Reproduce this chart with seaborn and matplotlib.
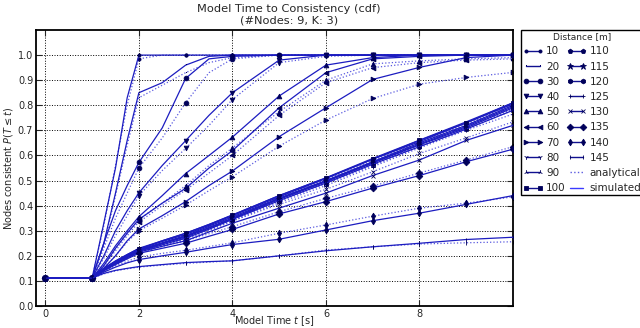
import matplotlib
matplotlib.use("Agg")
import matplotlib.pyplot as plt
from matplotlib.lines import Line2D
import seaborn as sns
import numpy as np

# ---------------- data ----------------
TIMES = [0, 1, 1.25, 1.5, 1.75, 2, 2.5, 3, 3.5, 4, 5, 6, 7, 8, 9, 10]
MARKER_TIMES = [0, 1, 2, 3, 4, 5, 6, 7, 8, 9, 10]
DISTANCES = [10, 20, 30, 40, 50, 60, 70, 80, 90, 100, 110, 115, 120, 125, 130, 135, 140, 145]
MARKERS = ['.', ',', 'o', 'v', '^', '<', '>', '1', '2', 's', 'p', '*', 'h', '+', 'x', 'D', 'd', '|']

sim_10 = [0.111, 0.111, 0.33, 0.55, 0.83, 1.0, 1.0, 1.0, 1.0, 1.0, 1.0, 1.0, 1.0, 1.0, 1.0, 1.0]
ana_10 = [0.111, 0.111, 0.32, 0.56, 0.80, 0.985, 1.0, 1.0, 1.0, 1.0, 1.0, 1.0, 1.0, 1.0, 1.0, 1.0]
sim_20 = [0.111, 0.111, 0.25, 0.45, 0.66, 0.85, 0.89, 0.96, 0.995, 1.0, 1.0, 1.0, 1.0, 1.0, 1.0, 1.0]
ana_20 = [0.111, 0.111, 0.24, 0.44, 0.64, 0.83, 0.88, 0.93, 0.97, 0.99, 1.0, 1.0, 1.0, 1.0, 1.0, 1.0]
sim_30 = [0.111, 0.111, 0.25, 0.38, 0.48, 0.572, 0.71, 0.907, 0.985, 0.995, 1.0, 1.0, 1.0, 1.0, 1.0, 1.0]
ana_30 = [0.111, 0.111, 0.23, 0.35, 0.45, 0.55, 0.67, 0.81, 0.93, 0.985, 1.0, 1.0, 1.0, 1.0, 1.0, 1.0]
sim_40 = [0.111, 0.111, 0.20, 0.30, 0.38, 0.451, 0.56, 0.659, 0.76, 0.85, 0.98, 1.0, 1.0, 1.0, 1.0, 1.0]
ana_40 = [0.111, 0.111, 0.19, 0.28, 0.36, 0.44, 0.54, 0.628, 0.72, 0.823, 0.97, 0.995, 1.0, 1.0, 1.0, 1.0]
sim_50 = [0.111, 0.111, 0.17, 0.24, 0.30, 0.356, 0.44, 0.528, 0.60, 0.673, 0.837, 0.96, 0.99, 1.0, 1.0, 1.0]
ana_50 = [0.111, 0.111, 0.16, 0.23, 0.29, 0.345, 0.41, 0.48, 0.56, 0.63, 0.775, 0.90, 0.965, 0.977, 0.985, 0.99]
sim_60 = [0.111, 0.111, 0.16, 0.23, 0.29, 0.345, 0.41, 0.469, 0.55, 0.619, 0.79, 0.93, 0.985, 0.995, 1.0, 1.0]
ana_60 = [0.111, 0.111, 0.16, 0.22, 0.28, 0.335, 0.40, 0.462, 0.53, 0.60, 0.76, 0.89, 0.95, 0.97, 0.98, 0.985]
sim_70 = [0.111, 0.111, 0.15, 0.20, 0.26, 0.307, 0.36, 0.416, 0.48, 0.538, 0.675, 0.79, 0.903, 0.951, 0.99, 1.0]
ana_70 = [0.111, 0.111, 0.15, 0.20, 0.255, 0.30, 0.35, 0.402, 0.46, 0.515, 0.637, 0.741, 0.827, 0.884, 0.911, 0.931]
sim_80 = [0.111, 0.111, 0.15, 0.18, 0.205, 0.23, 0.26, 0.29, 0.325, 0.363, 0.44, 0.511, 0.588, 0.661, 0.734, 0.81]
ana_80 = [0.111, 0.111, 0.145, 0.175, 0.20, 0.225, 0.255, 0.285, 0.32, 0.355, 0.435, 0.505, 0.58, 0.655, 0.725, 0.80]
sim_90 = [0.111, 0.111, 0.148, 0.178, 0.205, 0.228, 0.257, 0.285, 0.322, 0.36, 0.435, 0.508, 0.585, 0.655, 0.73, 0.805]
ana_90 = [0.111, 0.111, 0.144, 0.172, 0.198, 0.222, 0.252, 0.282, 0.318, 0.352, 0.43, 0.50, 0.575, 0.65, 0.72, 0.795]
sim_100 = [0.111, 0.111, 0.15, 0.176, 0.202, 0.226, 0.26, 0.29, 0.325, 0.362, 0.44, 0.51, 0.585, 0.66, 0.73, 0.81]
ana_100 = [0.111, 0.111, 0.143, 0.17, 0.196, 0.22, 0.25, 0.28, 0.315, 0.35, 0.43, 0.50, 0.575, 0.65, 0.72, 0.80]
sim_110 = [0.111, 0.111, 0.147, 0.175, 0.20, 0.225, 0.252, 0.28, 0.318, 0.355, 0.43, 0.50, 0.575, 0.65, 0.72, 0.80]
ana_110 = [0.111, 0.111, 0.142, 0.17, 0.195, 0.22, 0.248, 0.275, 0.312, 0.35, 0.425, 0.495, 0.57, 0.645, 0.715, 0.79]
sim_115 = [0.111, 0.111, 0.146, 0.173, 0.198, 0.222, 0.25, 0.278, 0.313, 0.35, 0.428, 0.498, 0.572, 0.645, 0.715, 0.795]
ana_115 = [0.111, 0.111, 0.141, 0.168, 0.193, 0.218, 0.245, 0.272, 0.308, 0.345, 0.42, 0.49, 0.565, 0.64, 0.71, 0.785]
sim_120 = [0.111, 0.111, 0.145, 0.172, 0.196, 0.22, 0.248, 0.275, 0.31, 0.348, 0.425, 0.495, 0.57, 0.642, 0.71, 0.79]
ana_120 = [0.111, 0.111, 0.14, 0.166, 0.19, 0.215, 0.242, 0.27, 0.305, 0.342, 0.418, 0.488, 0.56, 0.635, 0.705, 0.78]
sim_125 = [0.111, 0.111, 0.143, 0.17, 0.194, 0.218, 0.244, 0.27, 0.306, 0.345, 0.42, 0.49, 0.565, 0.635, 0.705, 0.78]
ana_125 = [0.111, 0.111, 0.139, 0.164, 0.188, 0.212, 0.238, 0.265, 0.30, 0.338, 0.412, 0.48, 0.555, 0.63, 0.70, 0.765]
sim_130 = [0.111, 0.111, 0.142, 0.168, 0.192, 0.215, 0.238, 0.26, 0.295, 0.33, 0.39, 0.45, 0.52, 0.582, 0.66, 0.72]
ana_130 = [0.111, 0.111, 0.141, 0.167, 0.192, 0.215, 0.242, 0.27, 0.305, 0.34, 0.405, 0.465, 0.535, 0.608, 0.67, 0.734]
sim_135 = [0.111, 0.111, 0.14, 0.165, 0.188, 0.21, 0.23, 0.25, 0.278, 0.305, 0.367, 0.416, 0.47, 0.52, 0.575, 0.625]
ana_135 = [0.111, 0.111, 0.142, 0.168, 0.192, 0.215, 0.238, 0.26, 0.288, 0.316, 0.376, 0.429, 0.478, 0.53, 0.582, 0.635]
sim_140 = [0.111, 0.111, 0.135, 0.155, 0.172, 0.185, 0.20, 0.214, 0.23, 0.245, 0.266, 0.303, 0.34, 0.37, 0.405, 0.44]
ana_140 = [0.111, 0.111, 0.138, 0.16, 0.178, 0.195, 0.21, 0.222, 0.237, 0.252, 0.29, 0.323, 0.358, 0.39, 0.41, 0.435]
sim_145 = [0.111, 0.111, 0.13, 0.142, 0.15, 0.157, 0.165, 0.173, 0.177, 0.18, 0.20, 0.22, 0.236, 0.25, 0.265, 0.274]
ana_145 = [0.111, 0.111, 0.128, 0.14, 0.148, 0.155, 0.163, 0.17, 0.175, 0.18, 0.20, 0.223, 0.236, 0.247, 0.252, 0.256]

SIMULATED = [sim_10, sim_20, sim_30, sim_40, sim_50, sim_60, sim_70, sim_80, sim_90,
             sim_100, sim_110, sim_115, sim_120, sim_125, sim_130, sim_135, sim_140, sim_145]
ANALYTICAL = [ana_10, ana_20, ana_30, ana_40, ana_50, ana_60, ana_70, ana_80, ana_90,
              ana_100, ana_110, ana_115, ana_120, ana_125, ana_130, ana_135, ana_140, ana_145]

TITLE = "Model Time to Consistency (cdf)\n(#Nodes: 9, K: 3)"
XLABEL = "Model Time $t$ [s]"
YLABEL = "Nodes consistent $P(T\\leq t)$"

# ---------------- style ----------------
sns.set_style("ticks")
plt.rcParams['font.family'] = ['DejaVu Sans']
plt.rcParams['mathtext.fontset'] = 'dejavusans'

SIM_COLOR = '#1c1cc0'
ANA_COLOR = '#5a5ae0'
MK_COLOR = '#00005a'


def msize(m):
    if m == '.':
        return 4.5
    if m == '*':
        return 4.5
    return 3.4


fig = plt.figure(figsize=(6.4, 3.28), dpi=100)
ax = fig.add_axes([36 / 640, 1 - 306 / 328, (513 - 36) / 640, (306 - 30) / 328])

mark_idx = [TIMES.index(t) for t in MARKER_TIMES]

for d, m, sv, av in zip(DISTANCES, MARKERS, SIMULATED, ANALYTICAL):
    ms = msize(m)
    sns.lineplot(x=TIMES, y=av, ax=ax, color=ANA_COLOR, linestyle=':', linewidth=0.9,
                 marker=m, markevery=mark_idx, markersize=ms, markerfacecolor=MK_COLOR,
                 markeredgecolor=MK_COLOR, markeredgewidth=0.6, legend=False, zorder=2)
    sns.lineplot(x=TIMES, y=sv, ax=ax, color=SIM_COLOR, linestyle='-', linewidth=0.9,
                 marker=m, markevery=mark_idx, markersize=ms, markerfacecolor=MK_COLOR,
                 markeredgecolor=MK_COLOR, markeredgewidth=0.6, legend=False, zorder=3)

ax.set_xlim(-0.2, 10)
ax.set_ylim(0, 1.1)
ax.set_xticks([0, 2, 4, 6, 8])
ax.set_yticks(np.arange(0, 1.01, 0.1))
ax.set_yticklabels([f"{v:.1f}" for v in np.arange(0, 1.01, 0.1)])
ax.grid(True, color='black', linestyle=':', linewidth=0.7)
ax.tick_params(direction='in', top=True, right=True, labelsize=7, length=4, width=0.8, pad=2)
for sp in ax.spines.values():
    sp.set_visible(True)
    sp.set_linewidth(1.3)
    sp.set_color('black')

fig.text(289 / 640, 1 - 4 / 328, TITLE, fontsize=8.2, ha='center', va='top',
         linespacing=1.15, multialignment='center')
ax.set_xlabel(XLABEL, fontsize=7)
ax.xaxis.set_label_coords(0.5, -0.03)
ax.set_ylabel(YLABEL, fontsize=7, labelpad=2)

handles = []
labels = []
for d, m in zip(DISTANCES, MARKERS):
    handles.append(Line2D([], [], color='#101090', linewidth=1.0, marker=m, markersize=msize(m),
                          markerfacecolor=MK_COLOR, markeredgecolor=MK_COLOR, markeredgewidth=0.6))
    labels.append(str(d))
handles.append(Line2D([], [], color=ANA_COLOR, linestyle=':', linewidth=1.0))
labels.append("analytical")
handles.append(Line2D([], [], color='#3a3aff', linestyle='-', linewidth=1.0))
labels.append("simulated")

leg = fig.legend(handles, labels, ncol=2, loc='upper left',
                 bbox_to_anchor=(521 / 640, 1 - 30 / 328), bbox_transform=fig.transFigure,
                 title="Distance [m]", fontsize=7.5, title_fontsize=6.5, frameon=True,
                 fancybox=False, edgecolor='black', framealpha=1, borderaxespad=0,
                 labelspacing=0.5, handlelength=1.9, handletextpad=0.3,
                 columnspacing=0.1, borderpad=0.2, numpoints=2)
leg.get_frame().set_linewidth(1.0)

fig.savefig("out.png", dpi=100)
